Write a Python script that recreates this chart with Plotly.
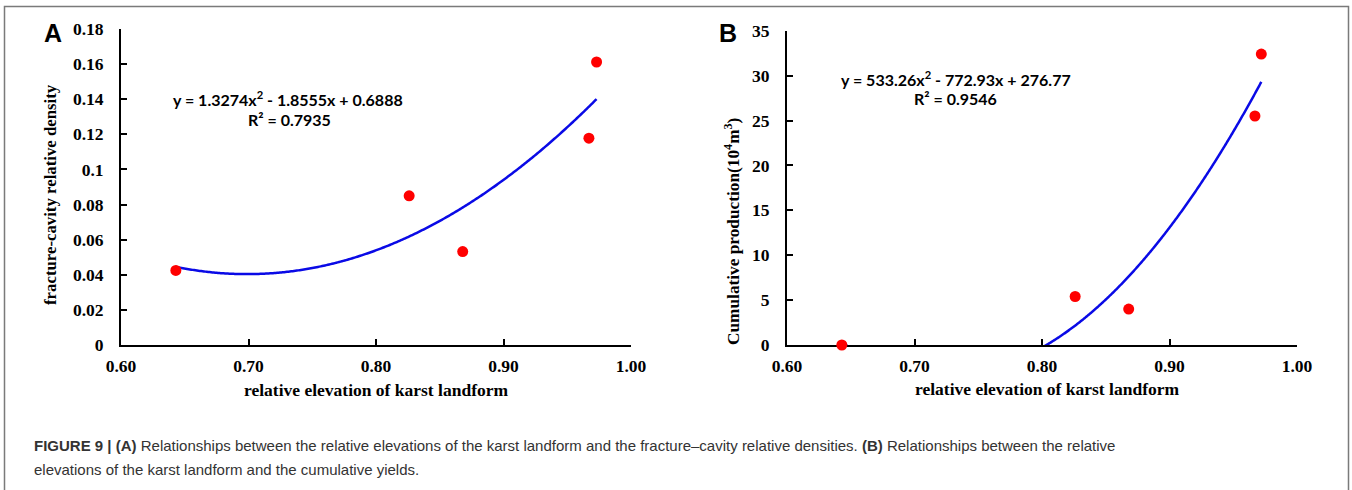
import numpy as np
import plotly.graph_objects as go

# ---------------- data ----------------
elev_a = [0.643, 0.826, 0.868, 0.967, 0.973]
density_a = [0.0425, 0.085, 0.0532, 0.1178, 0.1612]
coef_a = [1.3274, -1.8555, 0.6888]

elev_b = [0.643, 0.826, 0.868, 0.967, 0.972]
prod_b = [0.0, 5.4, 4.0, 25.5, 32.4]
coef_b = [533.26, -772.93, 276.77]

x_ticks = [0.60, 0.70, 0.80, 0.90, 1.00]
x_ticktext = ["0.60", "0.70", "0.80", "0.90", "1.00"]
ya_ticks = [0, 0.02, 0.04, 0.06, 0.08, 0.1, 0.12, 0.14, 0.16, 0.18]
ya_ticktext = ["0", "0.02", "0.04", "0.06", "0.08", "0.1", "0.12", "0.14", "0.16", "0.18"]
yb_ticks = [0, 5, 10, 15, 20, 25, 30, 35]
yb_ticktext = ["0", "5", "10", "15", "20", "25", "30", "35"]

W, H = 1352, 490

def px_x(p):
    return p / W

def px_y(p):
    return 1 - p / H

# trendlines from the displayed polynomial coefficients
fit_xa = np.linspace(min(elev_a), max(elev_a), 300)
fit_ya = np.polyval(coef_a, fit_xa)
fit_xb = np.linspace(min(elev_b), max(elev_b), 600)
fit_yb = np.polyval(coef_b, fit_xb)

line_style = dict(color="#0a0ae6", width=2.5, simplify=False)

fig = go.Figure()
fig.add_trace(go.Scatter(x=fit_xa, y=fit_ya, mode="lines", line=line_style,
                         xaxis="x", yaxis="y", showlegend=False, hoverinfo="skip"))
fig.add_trace(go.Scatter(x=elev_a, y=density_a, mode="markers", marker=dict(color="#ff0000", size=11),
                         xaxis="x", yaxis="y", showlegend=False, cliponaxis=False))
fig.add_trace(go.Scatter(x=fit_xb, y=fit_yb, mode="lines", line=line_style,
                         xaxis="x2", yaxis="y2", showlegend=False, hoverinfo="skip"))
fig.add_trace(go.Scatter(x=elev_b, y=prod_b, mode="markers", marker=dict(color="#ff0000", size=11),
                         xaxis="x2", yaxis="y2", showlegend=False, cliponaxis=False))

tickfont = dict(family="Liberation Serif", size=17.5, color="black", weight="bold")
axis_common = dict(showline=True, linecolor="black", linewidth=1.8, ticks="inside", ticklen=6,
                   tickwidth=1.5, tickcolor="black", showgrid=False, zeroline=False,
                   tickfont=tickfont, layer="below traces", fixedrange=True, automargin=False)

fig.update_layout(
    template="none",
    width=W, height=H, autosize=False,
    margin=dict(l=0, r=0, t=0, b=0, pad=0),
    paper_bgcolor="white", plot_bgcolor="white",
    xaxis=dict(domain=[px_x(121), px_x(631)], range=[0.6, 1.0], tickvals=x_ticks, ticktext=x_ticktext,
               anchor="y", ticklabelstandoff=4, **axis_common),
    yaxis=dict(domain=[px_y(345), px_y(29)], range=[0, 0.18], tickvals=ya_ticks, ticktext=ya_ticktext,
               anchor="x", ticklabelstandoff=12, **axis_common),
    xaxis2=dict(domain=[px_x(787), px_x(1297)], range=[0.6, 1.0], tickvals=x_ticks, ticktext=x_ticktext,
                anchor="y2", ticklabelstandoff=4, **axis_common),
    yaxis2=dict(domain=[px_y(345), px_y(30.7)], range=[0, 35], tickvals=yb_ticks, ticktext=yb_ticktext,
                anchor="x2", ticklabelstandoff=12, **axis_common),
)

xtitle_font = dict(family="Liberation Serif", size=17.5, color="black", weight="bold")
ytitle_a_font = dict(family="Liberation Serif", size=16.8, color="black", weight="bold")
ytitle_b_font = dict(family="Liberation Serif", size=17.3, color="black", weight="bold")
eq_font = dict(family="Lato", size=16, color="black", weight="bold")
cap_font = dict(family="Liberation Sans", size=15, color="#333333")

annotations = [
    # panel letters
    dict(text="A", x=px_x(53), y=px_y(33), font=dict(family="Liberation Sans", size=25, color="black", weight="bold")),
    dict(text="B", x=px_x(728), y=px_y(33), font=dict(family="Liberation Sans", size=25, color="black", weight="bold")),
    # axis titles
    dict(text="relative elevation of karst landform", x=px_x(376), y=px_y(390), font=xtitle_font),
    dict(text="relative elevation of karst landform", x=px_x(1047), y=px_y(389), font=xtitle_font),
    dict(text="fracture-cavity relative density", x=px_x(50), y=px_y(195), textangle=-90, font=ytitle_a_font),
    dict(text="Cumulative production(10<sup>4</sup>m<sup>3</sup>)", x=px_x(732), y=px_y(232), textangle=-90,
         font=ytitle_b_font),
    # equations
    dict(text="y = 1.3274x<sup>2</sup> - 1.8555x + 0.6888", x=px_x(288), y=px_y(99), font=eq_font),
    dict(text="R² = 0.7935", x=px_x(289), y=px_y(119), font=eq_font),
    dict(text="y = 533.26x<sup>2</sup> - 772.93x + 276.77", x=px_x(956), y=px_y(78), font=eq_font),
    dict(text="R² = 0.9546", x=px_x(955), y=px_y(99), font=eq_font),
    # caption
    dict(text="<b>FIGURE 9 | (A)</b> Relationships between the relative elevations of the karst landform and the "
              "fracture–cavity relative densities. <b>(B)</b> Relationships between the relative",
         x=px_x(32), y=px_y(445), xanchor="left", align="left", font=cap_font),
    dict(text="elevations of the karst landform and the cumulative yields.",
         x=px_x(32), y=px_y(469), xanchor="left", align="left", font=cap_font),
]
for a in annotations:
    a.setdefault("xanchor", "center")
    a.setdefault("yanchor", "middle")
    a.update(xref="paper", yref="paper", showarrow=False)
fig.update_layout(annotations=annotations)

fig.add_shape(type="rect", xref="paper", yref="paper",
              x0=px_x(4.5), x1=px_x(1348.5), y0=-0.05, y1=px_y(6.5),
              line=dict(color="#7a7a7a", width=1.5), fillcolor="rgba(0,0,0,0)", layer="below")

fig.write_html("out.html")
